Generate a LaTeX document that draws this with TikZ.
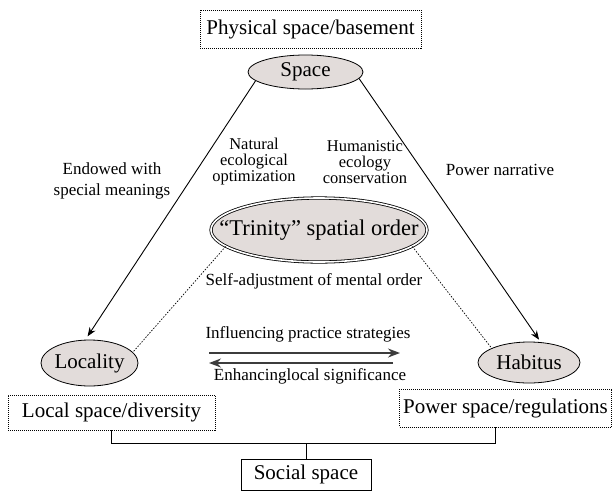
\documentclass[tikz,border=0pt]{standalone}
\usepackage{fontspec}
\setmainfont{Liberation Serif}
\usetikzlibrary{shapes.geometric}
\usetikzlibrary{arrows.meta}

\begin{document}
\begin{tikzpicture}[x=1pt,y=-1pt,
	oval/.style={draw,ellipse,inner sep=0pt,line width=0.8pt,
	fill={rgb,255:red,226;green,220;blue,218},font=\fontsize{21}{25}\selectfont},
	dotbox/.style={draw,dash pattern=on 1pt off 1pt,line width=0.8pt,inner sep=0pt,
	font=\fontsize{21}{25}\selectfont},
	lab/.style={align=center,inner sep=0pt,font=\fontsize{16.5}{16}\selectfont},
	arr/.style={-{Stealth[length=9pt,width=7pt]},line width=0.9pt},
	darr/.style={-{Stealth[length=12pt,width=9pt]},line width=1.6pt,
	draw={rgb,255:red,60;green,60;blue,60}}]
\useasboundingbox (0,0) rectangle (613,493);
\node [dotbox, minimum width=221pt, minimum height=38pt] (0) at (310.5,29) {Physical space/basement};
\node [oval, minimum width=115pt, minimum height=34pt] (1) at (305.5,72) {\makebox[0pt]{Space}};
\node [oval, double, double distance=1.6pt, minimum width=216pt, minimum height=64pt,
	font=\fontsize{22.5}{27}\selectfont] (2) at (319,230) {\makebox[0pt]{``Trinity'' spatial order}};
\node [oval, minimum width=97pt, minimum height=46pt] (3) at (89.5,363) {\makebox[0pt]{Locality}};
\node [oval, minimum width=102pt, minimum height=41pt] (4) at (529,362.5) {\makebox[0pt]{Habitus}};
\node [dotbox, minimum width=207pt, minimum height=35pt] (5) at (111.5,412.5) {Local space/diversity};
\node [dotbox, minimum width=212pt, minimum height=38pt] (6) at (505.5,408) {Power space/regulations};
\node [draw, line width=0.8pt, inner sep=0pt, minimum width=130pt, minimum height=31pt,
	font=\fontsize{21}{25}\selectfont] (7) at (306,474.5) {Social space};
% edge labels
\node [lab, font=\fontsize{17}{21}\selectfont] (8) at (112,181) {Endowed with\\special meanings};
\node [lab] (9) at (254,162) {Natural\\ecological\\optimization};
\node [lab] (10) at (365,162) {Humanistic\\ecology\\conservation};
\node [lab, font=\fontsize{17}{21}\selectfont] (11) at (500,170) {Power narrative};
\node [lab, font=\fontsize{17}{21}\selectfont] (12) at (314,281) {Self-adjustment of mental order};
\node [lab, font=\fontsize{17}{21}\selectfont] (13) at (308,334) {Influencing practice strategies};
\node [lab, font=\fontsize{17}{21}\selectfont] (14) at (310,376) {Enhancinglocal significance};
\coordinate (a) at (209,353);
\coordinate (b) at (400,353);
\coordinate (c) at (393,363);
\coordinate (d) at (209,363);
\draw [arr, shorten >=4pt] (1.190) -- (3.100);
\draw [arr, shorten >=3pt] (1.-7) -- (4.60);
\draw [dash pattern=on 1.5pt off 1.5pt, line width=0.7pt] (2.190) -- (3.14);
\draw [dash pattern=on 1.5pt off 1.5pt, line width=0.7pt] (2.-10) -- (4.159);
\draw [darr] (a) -- (b);
\draw [darr] (c) -- (d);
\draw [line width=0.8pt] (5.south) -- ++(0,13) -| ([xshift=-10pt]6.south);
\draw [line width=0.8pt] (7.north) -- ++(0,-16);
\end{tikzpicture}
\end{document}
